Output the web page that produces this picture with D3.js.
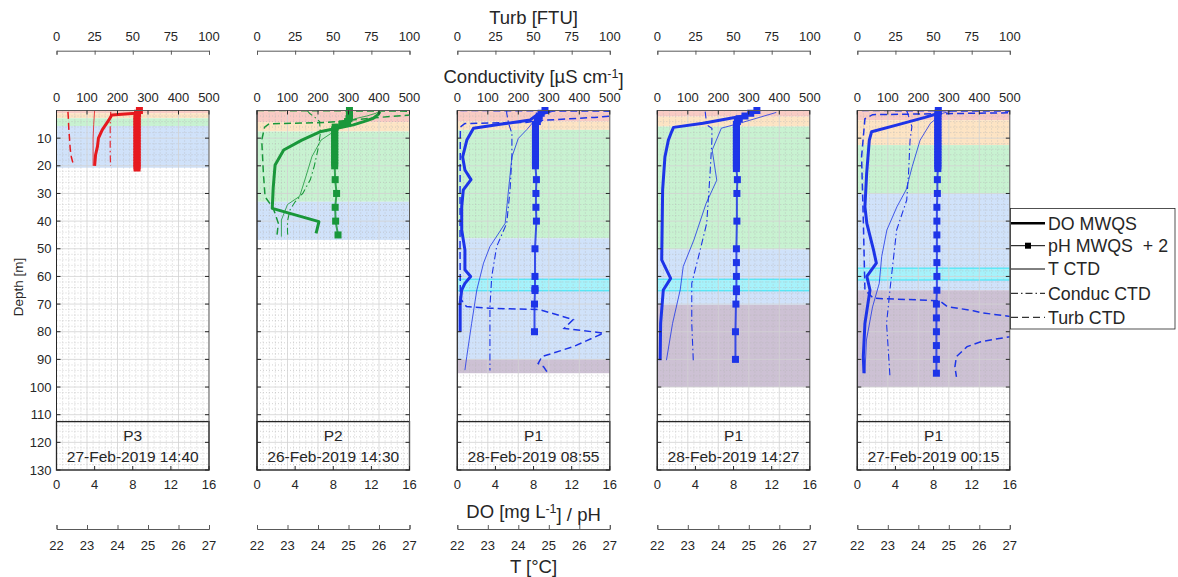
<!DOCTYPE html>
<html>
<head>
<meta charset="utf-8">
<script src="https://cdn.jsdelivr.net/npm/d3@7"></script>
<style>
  body { margin: 0; background: #fff; }
  svg text { font-family: "Liberation Sans", Arial, sans-serif; fill: #262626; }
</style>
</head>
<body>
<svg id="chart" width="1178" height="577"></svg>
<script>
// ---- data: [depth (m), value] ----
// P3, 27-Feb-2019 14:40
var doA = [[0,8.8],[1,8.3],[1.6,5.8],[3.4,5.5],[7,4.8],[10,4.4],[13,4.3],[16,4.1],[20,4.0]];
var phA = [[0,6.7],[1,6.5],[2,6.45],[3,6.45],[4,6.45],[5,6.45],[6,6.45],[7,6.45],[8,6.45],[9,6.45],[10,6.45],
           [11,6.45],[12,6.45],[13,6.45],[14,6.45],[15,6.45],[16,6.45],[17,6.45],[18,6.45],[19,6.45],[20,6.45],[20.8,6.45]];
var tA = [[0,23.25],[5,23.22],[10,23.2],[15,23.2],[20,23.2]];
var condA = [[0.5,178],[2,177],[5,176],[10,176],[15,176],[20,177]];
var turbA = [[0.5,7.5],[3,7.8],[6,8],[10,8.5],[14,9],[17,9.8],[20,11.3]];

// P2, 26-Feb-2019 14:30
var doB = [[0.4,12.9],[1.5,12.7],[2.8,12.2],[4,11.2],[5.2,10.1],[6.4,8.4],[7.7,6.6],[10.7,4.7],[14.3,2.8],
           [19.7,1.9],[28,1.7],[35.4,1.6],[40.2,6.5],[44.4,6.2]];
var phB = [[0,7.7],[1,7.7],[2,7.7],[3,7.65],[4,7.5],[5,6.9],[6,6.2],[7,6.15],[8,6.15],[9,6.15],[10,6.15],[11,6.15],
           [12,6.15],[13,6.15],[14,6.15],[15,6.15],[16,6.15],[17,6.15],[18,6.15],[19,6.15],[20,6.15],
           [25,6.2],[30,6.35],[35,6.2],[40,6.25],[45,6.5]];
var tB = [[0.3,26.0],[1,25.9],[2,25.6],[3,25.2],[4.5,24.9],[6,24.7],[7,24.6],[10.7,24.1],[16.7,23.8],[24,23.6],
          [31,23.4],[34,23.0],[39.6,22.8],[45.6,22.8]];
var condB = [[0,165],[1,172],[2.5,190],[4,205],[8,208],[14,200],[20,188],[25,175],[30,150],[33,125],[36,108],
             [40,100],[44,100],[46,102]];
var turbB = [[0,0],[0.3,130],[1,115],[2.5,80],[4.3,46],[4.8,8],[6,5],[10.7,3.1],[22.8,4.2],[31.2,5.3],[35.4,10.7],
             [40.8,14],[45.6,13]];

// P1, 28-Feb-2019 08:55
var doC = [[0,9.75],[1.6,8.35],[3.4,7.65],[5,4.5],[6.4,1.7],[10.7,1.0],[16.8,0.56],[21.5,0.8],[25,1.44],[28.7,0.63],
           [34.8,0.46],[43.2,0.46],[50.4,0.8],[57.6,0.8],[60,1.4],[62.5,0.8],[64.9,0.46],[69.7,0.3],[80,0.3]];
var phC = [[0,7.2],[1,6.8],[2,6.6],[3,6.5],[4,6.4],[5,6.2],[6,6.2],[7,6.2],[8,6.2],[9,6.2],[10,6.2],[11,6.2],[12,6.2],
           [13,6.2],[14,6.2],[15,6.2],[16,6.2],[17,6.2],[18,6.2],[19,6.2],[20,6.2],[25,6.3],[30,6.25],[35,6.25],
           [40,6.3],[50,6.15],[60,6.15],[64.4,6.15],[65.1,6.15],[70,6.1],[80,6.1]];
var tC = [[0,25.2],[1.6,24.8],[4,24.5],[6.9,24.28],[10.1,24.0],[16.8,23.79],[28.7,23.68],[40.8,23.57],[49.2,23.07],
          [55.2,22.86],[64.9,22.64],[77,22.47],[89,22.31],[93.9,22.25]];
var condC = [[0,162],[1,162],[4.6,168],[8.3,179],[16.8,179],[28.7,173],[40.8,162],[49.2,129],[60,113],[71,107],[94,107]];
var turbC = [[0,2],[0.3,130],[1.2,120],[2.5,90],[3.6,55],[4.3,45],[4.7,5],[6,2],[30,1.8],[50,1.8],[68,2],[70.9,6],
             [71.5,21.5],[72,54],[75.6,76],[78.8,70],[80.5,96],[85.4,76],[89,55.5],[91.5,53],[92.7,56.6],[94.5,58.8]];

// P1, 28-Feb-2019 14:27
var doD = [[0.4,10.5],[2.2,8.7],[4.6,4.8],[6.1,1.7],[7.7,1.5],[10.7,1.16],[16.8,0.8],[28.7,0.56],[54,0.46],
           [60.7,1.4],[64.9,0.63],[77,0.35],[90.3,0.3]];
var phD = [[0,8.45],[1,7.8],[2,7.2],[3,6.6],[4,6.4],[5,6.3],[6,6.3],[7,6.3],[8,6.3],[9,6.3],[10,6.3],[11,6.3],
           [12,6.3],[13,6.3],[14,6.3],[15,6.3],[16,6.3],[17,6.3],[18,6.3],[19,6.3],[20,6.3],[21,6.3],[25,6.4],
           [30,6.35],[40,6.35],[50,6.3],[55,6.3],[60,6.3],[64.5,6.3],[65.5,6.3],[70,6.25],[80,6.2],[90,6.2]];
var tD = [[0.7,25.9],[4.6,24.7],[6.4,24.1],[14.3,23.8],[25.2,23.95],[33.6,23.6],[46.8,23.2],[56.4,22.85],
          [64.9,22.75],[77,22.5],[90.3,22.3]];
var condD = [[0.4,157],[5.2,162],[6.4,179],[10.7,179],[22.8,173],[40.8,162],[52.9,135],[62.5,113],[77,113],[90.3,118]];
var turbD = [];

// P1, 27-Feb-2019 00:15
var doE = [[0.8,8.7],[2.5,7.1],[5,4.4],[7.7,1.5],[10.7,1.26],[22.8,0.98],[34.8,0.8],[40.8,1.0],[50.4,1.7],[55.2,2.0],
           [60,1.0],[64.9,1.33],[77,0.8],[89,0.63],[95,0.7]];
var phE = [[0,6.5],[1,6.45],[2,6.45],[3,6.45],[4,6.45],[5,6.45],[6,6.45],[7,6.45],[8,6.45],[9,6.45],[10,6.45],
           [11,6.45],[12,6.45],[13,6.45],[14,6.45],[15,6.45],[16,6.45],[17,6.45],[18,6.45],[19,6.45],[20,6.45],
           [21,6.45],[25,6.4],[30,6.4],[35,6.35],[40,6.35],[45,6.35],[50,6.35],[55,6.35],[60,6.35],[65,6.35],
           [70,6.3],[75,6.3],[80,6.3],[85,6.3],[90,6.3],[95,6.3]];
var tE = [[0.3,25.05],[1,24.8],[4.6,24.4],[10.7,24.06],[20.3,23.8],[28.7,23.6],[34.8,23.3],[43.2,22.97],[52.8,22.8],
          [62.5,22.72],[71,22.5],[83,22.3],[95,22.25]];
var condE = [[0,162],[5.8,179],[10.7,173],[22.8,168],[32.4,162],[43.2,129],[64.9,107],[77,96],[96,107]];
var turbE = [[0,3],[0.3,130],[0.6,130],[1.5,10],[3,5],[16.8,2.8],[40.8,4],[64.9,5],[67.9,10.5],[68.8,54],[70.9,59],
             [72.4,76],[73.1,81],[74.6,102],[76,115],[80,112],[81.8,100],[83.6,81],[85.4,72],[89,65],[92.7,64],[96.3,65]];

// water layers: [top, bottom, kind]
var bandsA = [[0,1,"red"],[1,2.8,"orange"],[2.8,5.6,"green"],[5.6,20.7,"blue"]];
var bandsB = [[0,4.2,"red"],[4.2,7.6,"orange"],[7.6,33,"green"],[33,46.8,"blue"]];
var bandsC = [[0,4,"red"],[4,7,"orange"],[7,46.2,"green"],[46.2,90,"blue"],[90,95,"purple"],[61,65.2,"cyan"]];
var bandsD = [[0,2.2,"red"],[2.2,5.8,"orange"],[5.8,50.2,"green"],[50.2,70.3,"blue"],[70.3,100,"purple"],[61,65.2,"cyan"]];
var bandsE = [[0,3.5,"red"],[3.5,12.5,"orange"],[12.5,30,"green"],[30,65,"blue"],[65,100,"purple"],[57,61.3,"cyan"]];

var stations = ["P3", "P2", "P1", "P1", "P1"];
var times = ["27-Feb-2019 14:40", "26-Feb-2019 14:30", "28-Feb-2019 08:55", "28-Feb-2019 14:27", "27-Feb-2019 00:15"];

var depthTicks = [10, 20, 30, 40, 50, 60, 70, 80, 90, 100, 110, 120, 130];
var doTicks = [0, 4, 8, 12, 16];
var condTicks = [0, 100, 200, 300, 400, 500];
var turbTicks = [0, 25, 50, 75, 100];
var tempTicks = [22, 23, 24, 25, 26, 27];
var legendNames = ["DO MWQS", "pH MWQS  + 2", "T CTD", "Conduc CTD", "Turb CTD"];

// ---- layout ----
var panelLeft = [56.5, 257, 457.3, 657.3, 857.3];
var panelW = 152.5;
var yTop = 110.5, yBot = 470;
var colors = ["#e6191f", "#19973a", "#1d34e8", "#1d34e8", "#1d34e8"];
var bandFill = {red: "#f9cbc4", orange: "#fde4c4", green: "#c8f2d1", blue: "#d0e2fa", purple: "#cdc1d4", cyan: "#a6f2fb"};

var panels = [
  {do: doA, ph: phA, t: tA, cond: condA, turb: turbA, bands: bandsA},
  {do: doB, ph: phB, t: tB, cond: condB, turb: turbB, bands: bandsB},
  {do: doC, ph: phC, t: tC, cond: condC, turb: turbC, bands: bandsC},
  {do: doD, ph: phD, t: tD, cond: condD, turb: turbD, bands: bandsD},
  {do: doE, ph: phE, t: tE, cond: condE, turb: turbE, bands: bandsE}
];

var svg = d3.select("#chart");
var yScale = d3.scaleLinear().domain([0, 130]).range([yTop, yBot]);
var axisColor = "#262626";

panels.forEach(function(p, i) {
  var x0 = panelLeft[i], x1 = x0 + panelW;
  var xDO = d3.scaleLinear().domain([0, 16]).range([x0, x1]);
  var xCond = d3.scaleLinear().domain([0, 500]).range([x0, x1]);
  var xTurb = d3.scaleLinear().domain([0, 100]).range([x0, x1]);
  var xT = d3.scaleLinear().domain([22, 27]).range([x0, x1]);
  var col = colors[i];

  svg.append("clipPath").attr("id", "clip" + i)
    .append("rect").attr("x", x0).attr("y", yTop).attr("width", panelW).attr("height", yBot - yTop);

  var g = svg.append("g");
  var plot = g.append("g").attr("clip-path", "url(#clip" + i + ")");

  /* layers */
  plot.selectAll(".band").data(p.bands).enter().append("rect")
    .attr("x", x0).attr("width", panelW)
    .attr("y", d => yScale(d[0]))
    .attr("height", d => yScale(d[1]) - yScale(d[0]))
    .attr("fill", d => bandFill[d[2]])
    .attr("stroke", d => d[2] == "cyan" ? "#33e4f4" : "none")
    .attr("stroke-width", 1);

  /* grid */
  var minorY = d3.range(2, 130, 2).filter(v => v % 10 != 0);
  var minorX = d3.range(20, 500, 20).filter(v => v % 100 != 0);
  plot.selectAll(".my").data(minorY).enter().append("line")
    .attr("x1", x0).attr("x2", x1).attr("y1", d => yScale(d)).attr("y2", d => yScale(d))
    .attr("stroke", "#b5b5b5").attr("stroke-width", 0.6).attr("stroke-dasharray", "1,2");
  plot.selectAll(".mx").data(minorX).enter().append("line")
    .attr("y1", yTop).attr("y2", yBot).attr("x1", d => xCond(d)).attr("x2", d => xCond(d))
    .attr("stroke", "#b5b5b5").attr("stroke-width", 0.6).attr("stroke-dasharray", "1,2");
  plot.selectAll(".gy").data(depthTicks).enter().append("line")
    .attr("x1", x0).attr("x2", x1).attr("y1", d => yScale(d)).attr("y2", d => yScale(d))
    .attr("stroke", "#d2d2d2").attr("stroke-width", 0.8);
  plot.selectAll(".gx").data(condTicks).enter().append("line")
    .attr("y1", yTop).attr("y2", yBot).attr("x1", d => xCond(d)).attr("x2", d => xCond(d))
    .attr("stroke", "#d2d2d2").attr("stroke-width", 0.8);

  /* series */
  var lineT = d3.line().x(d => xT(d[1])).y(d => yScale(d[0]));
  var lineCond = d3.line().x(d => xCond(d[1])).y(d => yScale(d[0]));
  var lineTurb = d3.line().x(d => xTurb(d[1])).y(d => yScale(d[0]));
  var lineDO = d3.line().x(d => xDO(d[1])).y(d => yScale(d[0]));
  var linePH = d3.line().x(d => xDO(d[1] + 2)).y(d => yScale(d[0]));

  plot.append("path").attr("d", lineT(p.t)).attr("fill", "none")
    .attr("stroke", col).attr("stroke-width", 1).attr("opacity", 0.8);
  plot.append("path").attr("d", lineCond(p.cond)).attr("fill", "none")
    .attr("stroke", col).attr("stroke-width", 1.1).attr("stroke-dasharray", "7,3,1.5,3");
  if (p.turb.length)
    plot.append("path").attr("d", lineTurb(p.turb)).attr("fill", "none")
      .attr("stroke", col).attr("stroke-width", 1.5).attr("stroke-dasharray", "7,4");
  plot.append("path").attr("d", lineDO(p.do)).attr("fill", "none")
    .attr("stroke", col).attr("stroke-width", 3).attr("stroke-linejoin", "round");
  plot.append("path").attr("d", linePH(p.ph)).attr("fill", "none")
    .attr("stroke", col).attr("stroke-width", 2).attr("opacity", 0.85);
  g.selectAll(".ph").data(p.ph).enter().append("rect")
    .attr("x", d => xDO(d[1] + 2) - 3.5).attr("y", d => yScale(d[0]) - 3.5)
    .attr("width", 7).attr("height", 7).attr("fill", col);

  /* station box */
  g.append("rect").attr("x", x0).attr("y", yScale(112.5))
    .attr("width", panelW).attr("height", yBot - yScale(112.5))
    .attr("fill", "none").attr("stroke", axisColor).attr("stroke-width", 1.3);
  g.append("text").attr("x", (x0 + x1) / 2).attr("y", 436).attr("dy", "0.35em")
    .attr("text-anchor", "middle").style("font-size", "15.5px").text(stations[i]);
  g.append("text").attr("x", (x0 + x1) / 2).attr("y", 456.5).attr("dy", "0.35em")
    .attr("text-anchor", "middle").style("font-size", "15.5px").text(times[i]);

  /* frame and ticks */
  g.append("rect").attr("x", x0).attr("y", yTop).attr("width", panelW).attr("height", yBot - yTop)
    .attr("fill", "none").attr("stroke", "#595959").attr("stroke-width", 1);
  g.append("line").attr("x1", x0).attr("x2", x0).attr("y1", yTop).attr("y2", yBot)
    .attr("stroke", axisColor).attr("stroke-width", 1);
  g.selectAll(".yt").data(depthTicks).enter().append("line")
    .attr("x1", x0).attr("x2", x0 + 4).attr("y1", d => yScale(d)).attr("y2", d => yScale(d))
    .attr("stroke", axisColor);
  g.selectAll(".yt2").data(depthTicks).enter().append("line")
    .attr("x1", x1).attr("x2", x1 - 4).attr("y1", d => yScale(d)).attr("y2", d => yScale(d))
    .attr("stroke", axisColor);
  g.selectAll(".bt").data(doTicks).enter().append("line")
    .attr("x1", d => xDO(d)).attr("x2", d => xDO(d)).attr("y1", yBot).attr("y2", yBot - 4)
    .attr("stroke", axisColor);
  g.selectAll(".tt").data(condTicks).enter().append("line")
    .attr("x1", d => xCond(d)).attr("x2", d => xCond(d)).attr("y1", yTop).attr("y2", yTop + 4)
    .attr("stroke", axisColor);

  g.selectAll(".bl").data(doTicks).enter().append("text")
    .attr("x", d => xDO(d)).attr("y", 484).attr("dy", "0.35em").attr("text-anchor", "middle")
    .style("font-size", "13px").text(d => d);
  g.selectAll(".cl").data(condTicks).enter().append("text")
    .attr("x", d => xCond(d)).attr("y", 97).attr("dy", "0.35em").attr("text-anchor", "middle")
    .style("font-size", "13px").text(d => d);

  if (i == 0) {
    g.selectAll(".yl").data(depthTicks).enter().append("text")
      .attr("x", x0 - 5).attr("y", d => yScale(d)).attr("dy", "0.35em").attr("text-anchor", "end")
      .style("font-size", "13px").text(d => d);
  }

  // separate turbidity axis on top
  var turbAxis = svg.append("g").attr("transform", "translate(0,50.7)")
    .call(d3.axisBottom(xTurb).tickValues(turbTicks).tickSizeInner(4).tickSizeOuter(4).tickFormat(d3.format("d")));
  turbAxis.selectAll("text").remove();
  turbAxis.selectAll("path,line").attr("stroke", "#595959");
  svg.selectAll(null).data(turbTicks).enter().append("text")
    .attr("x", d => xTurb(d)).attr("y", 36.7).attr("dy", "0.35em").attr("text-anchor", "middle")
    .style("font-size", "13px").text(d => d);

  // separate temperature axis at bottom
  var tAxis = svg.append("g").attr("transform", "translate(0,529)")
    .call(d3.axisTop(xT).tickValues(tempTicks).tickSizeInner(4).tickSizeOuter(4));
  tAxis.selectAll("text").remove();
  tAxis.selectAll("path,line").attr("stroke", "#595959");
  svg.selectAll(null).data(tempTicks).enter().append("text")
    .attr("x", d => xT(d)).attr("y", 545).attr("dy", "0.35em").attr("text-anchor", "middle")
    .style("font-size", "13px").text(d => d);
});

// axis titles
var cx = panelLeft[2] + panelW / 2;
svg.append("text").attr("x", cx).attr("y", 18).attr("dy", "0.35em").attr("text-anchor", "middle")
  .style("font-size", "18.5px").text("Turb [FTU]");
var condTitle = svg.append("text").attr("x", cx).attr("y", 77).attr("dy", "0.35em").attr("text-anchor", "middle")
  .style("font-size", "18.5px");
condTitle.append("tspan").text("Conductivity [µS cm");
condTitle.append("tspan").attr("dy", "-0.45em").style("font-size", "12.5px").text("-1");
condTitle.append("tspan").attr("dy", "0.45em").text("]");
var doTitle = svg.append("text").attr("x", cx).attr("y", 512).attr("dy", "0.35em").attr("text-anchor", "middle")
  .style("font-size", "18.5px");
doTitle.append("tspan").text("DO [mg L");
doTitle.append("tspan").attr("dy", "-0.45em").style("font-size", "12.5px").text("-1");
doTitle.append("tspan").attr("dy", "0.45em").text("] / pH");
svg.append("text").attr("x", cx).attr("y", 567).attr("dy", "0.35em").attr("text-anchor", "middle")
  .style("font-size", "18.5px").text("T [°C]");
svg.append("text").attr("transform", "translate(18,287) rotate(-90)").attr("dy", "0.35em")
  .attr("text-anchor", "middle").style("font-size", "13.5px").text("Depth [m]");

// legend
var lg = svg.append("g");
lg.append("rect").attr("x", 1010.5).attr("y", 208.5).attr("width", 164.5).attr("height", 120.5)
  .attr("fill", "#fff").attr("stroke", "#262626").attr("stroke-width", 0.8);
var legY = [223.3, 245.7, 269, 293.3, 317.3];
var legWidth = [2.5, 1, 1, 1, 1];
var legDash = [null, null, null, "7,3,1.5,3", "7,4"];
legendNames.forEach(function(name, k) {
  lg.append("line").attr("x1", 1011).attr("x2", 1045).attr("y1", legY[k]).attr("y2", legY[k])
    .attr("stroke", "#000").attr("stroke-width", legWidth[k]).attr("stroke-dasharray", legDash[k]);
  if (k == 1)
    lg.append("rect").attr("x", 1025).attr("y", legY[k] - 3).attr("width", 6).attr("height", 6).attr("fill", "#000");
  lg.append("text").attr("x", 1048).attr("y", legY[k]).attr("dy", "0.35em")
    .style("font-size", "17.8px").style("white-space", "pre").attr("xml:space", "preserve").text(name);
});
</script>
</body>
</html>
